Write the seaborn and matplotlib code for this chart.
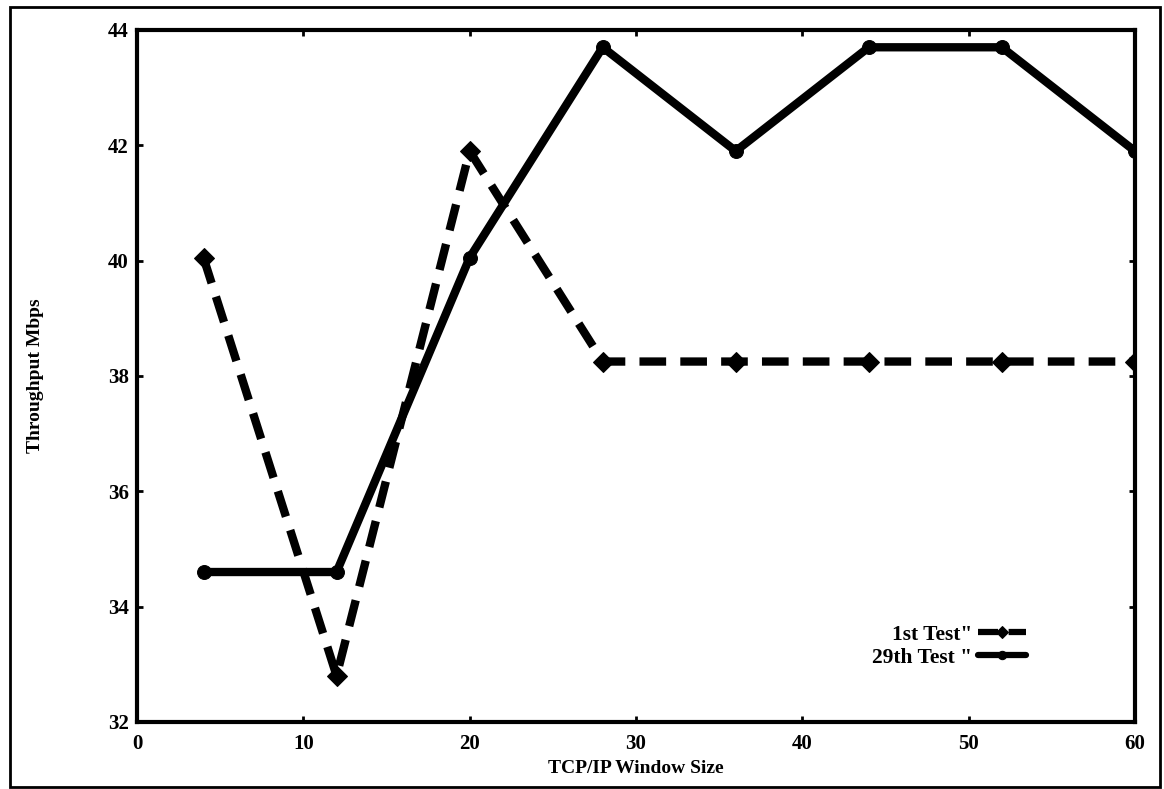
import pandas as pd
import matplotlib
matplotlib.use("Agg")
import matplotlib.pyplot as plt
from matplotlib.patches import Rectangle
import seaborn as sns

# data
window_size = [4, 12, 20, 28, 36, 44, 52, 60]
first_test = [40.05, 32.8, 41.9, 38.25, 38.25, 38.25, 38.25, 38.25]
test_29 = [34.6, 34.6, 40.05, 43.7, 41.9, 43.7, 43.7, 41.9]
labels = ['1st Test"', '29th Test "']

df = pd.DataFrame({
    "window": window_size * 2,
    "throughput": first_test + test_29,
    "test": [labels[0]] * len(window_size) + [labels[1]] * len(window_size),
})

sns.set_style("ticks")
plt.rcParams["font.family"] = ["Liberation Serif", "DejaVu Serif"]
plt.rcParams["font.weight"] = "bold"
plt.rcParams["text.color"] = "black"
plt.rcParams["axes.labelcolor"] = "black"
plt.rcParams["xtick.color"] = "black"
plt.rcParams["ytick.color"] = "black"

fig = plt.figure(figsize=(11.64, 7.89), dpi=100)
ax = fig.add_axes([0.1177, 0.085, 0.8573, 0.877])

sns.lineplot(data=df, x="window", y="throughput", hue="test", style="test",
             palette=["black", "black"],
             dashes={labels[0]: (3.2, 1.7), labels[1]: ""},
             markers={labels[0]: "D", labels[1]: "o"},
             markersize=10, markeredgecolor="black", linewidth=6, ax=ax)

ax.set_xlim(0, 60)
ax.set_ylim(32, 44)
ax.set_xticks([0, 10, 20, 30, 40, 50, 60])
ax.set_yticks([32, 34, 36, 38, 40, 42, 44])
ax.tick_params(direction="in", top=True, right=True, length=4, width=2,
               labelsize=15, pad=6)
ax.tick_params(axis="x", pad=9)
for s in ax.spines.values():
    s.set_linewidth(3)
    s.set_edgecolor("black")
    s.set_visible(True)
ax.set_xlabel("TCP/IP Window Size", fontsize=14, fontweight="bold", labelpad=4)
ax.set_ylabel("Throughput Mbps", fontsize=14, fontweight="bold", labelpad=46)

leg = ax.legend(frameon=False, markerfirst=False, handlelength=2.2,
                fontsize=15.5, loc="lower right",
                bbox_to_anchor=(0.91, 0.05), labelspacing=0.15,
                handletextpad=0.3)
for line in leg.get_lines():
    line.set_linewidth(4.5)
    line.set_markersize(6)

fig.patches.append(Rectangle((10 / 1164, 2 / 789), 1150 / 1164, 780 / 789,
                             transform=fig.transFigure, fill=False,
                             edgecolor="black", linewidth=2))

fig.savefig("out.png", dpi=100)
